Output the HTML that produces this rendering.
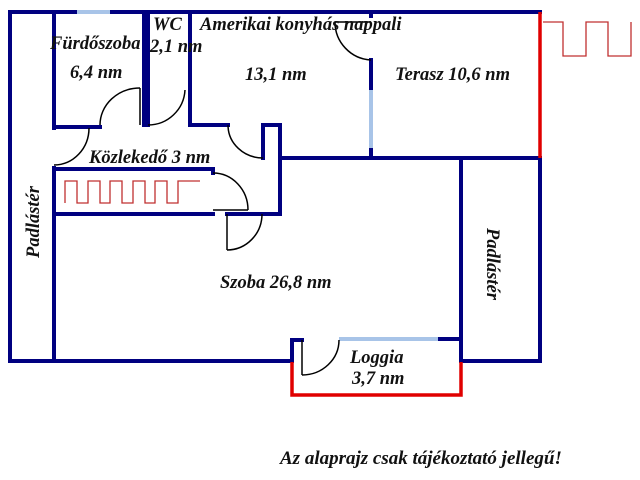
<!DOCTYPE html>
<html><head><meta charset="utf-8"><style>
html,body{margin:0;padding:0;background:#fff;}
svg{display:block}
text{font-family:"Liberation Serif",serif;font-style:italic;font-weight:bold;fill:#111;}
</style></head><body>
<svg width="640" height="480" viewBox="0 0 640 480" xmlns="http://www.w3.org/2000/svg">
<g stroke="#000080" stroke-width="4" fill="none" stroke-linecap="square">
<line x1="10" y1="12" x2="540" y2="12"/>
<line x1="10" y1="12" x2="10" y2="361"/>
<line x1="10" y1="361" x2="292" y2="361"/>
<line x1="54" y1="12" x2="54" y2="128"/>
<line x1="54" y1="168" x2="54" y2="361"/>
<line x1="144" y1="12" x2="144" y2="125"/>
<line x1="148" y1="12" x2="148" y2="125"/>
<line x1="190" y1="12" x2="190" y2="125"/>
<line x1="54" y1="127" x2="100" y2="127"/>
<line x1="190" y1="125" x2="228" y2="125"/>
<line x1="263" y1="125" x2="263" y2="158"/>
<line x1="263" y1="125" x2="280" y2="125"/>
<line x1="280" y1="125" x2="280" y2="214"/>
<line x1="280" y1="158" x2="540" y2="158"/>
<line x1="54" y1="169" x2="213" y2="169"/>
<line x1="213" y1="169" x2="213" y2="173"/>
<line x1="54" y1="214" x2="213" y2="214"/>
<line x1="227" y1="214" x2="280" y2="214"/>
<line x1="371" y1="12" x2="371" y2="16"/>
<line x1="371" y1="60" x2="371" y2="90"/>
<line x1="371" y1="148" x2="371" y2="158"/>
<line x1="540" y1="158" x2="540" y2="361"/>
<line x1="461" y1="158" x2="461" y2="361"/>
<line x1="461" y1="361" x2="540" y2="361"/>
<line x1="292" y1="340" x2="292" y2="361"/>
<line x1="292" y1="340" x2="302" y2="340"/>
<line x1="438" y1="339" x2="461" y2="339"/>
</g>
<g stroke="#a8c4e8" stroke-width="4">
<line x1="77" y1="12" x2="110" y2="12"/>
<line x1="371" y1="90" x2="371" y2="148"/>
<line x1="339" y1="339" x2="438" y2="339"/>
</g>
<g stroke="#e00000" stroke-width="3.5" fill="none">
<line x1="540" y1="12" x2="540" y2="158"/>
<polyline points="292,362 292,395 461,395 461,362"/>
</g>
<g stroke="#c03030" stroke-width="1.3" fill="none">
<polyline points="65,203 65,181 77,181 77,203 88,203 88,181 100,181 100,203 110,203 110,181 122,181 122,203 133,203 133,181 145,181 145,203 155,203 155,181 167,181 167,203 178,203 178,181 200,181"/>
<polyline points="543,22 563,22 563,56 586,56 586,22 608,22 608,56 631,56 631,22"/>
</g>
<g stroke="#000" stroke-width="1.5" fill="none">
<line x1="140" y1="88" x2="140" y2="125"/>
<path d="M100,125 A40,37 0 0 1 140,88"/>
<path d="M148,125 A37,37 0 0 0 185,90"/>
<path d="M228,125 A35,33 0 0 0 263,158"/>
<path d="M54,165 A35,37 0 0 0 89,128"/>
<path d="M213,173 A35,37 0 0 1 248,210"/>
<line x1="213" y1="210" x2="248" y2="210"/>
<line x1="227" y1="214" x2="227" y2="250"/>
<path d="M227,250 A35,36 0 0 0 262,214"/>
<path d="M335,22 A38,38 0 0 0 371,60"/>
<line x1="335" y1="22" x2="371" y2="22"/>
<line x1="302" y1="340" x2="302" y2="375"/>
<path d="M302,375 A37,35 0 0 0 339,340"/>
</g>
<text x="50" y="49" font-size="18.5">Fürdőszoba</text>
<text x="70" y="78" font-size="18.5">6,4 nm</text>
<text x="153" y="30" font-size="18.5">WC</text>
<text x="150" y="52" font-size="18.5">2,1 nm</text>
<text x="200" y="30" font-size="18.5">Amerikai konyhás nappali</text>
<text x="245" y="80" font-size="18.5">13,1 nm</text>
<text x="395" y="80" font-size="18.5">Terasz 10,6 nm</text>
<text x="89" y="163" font-size="18.5">Közlekedő 3 nm</text>
<text x="220" y="288" font-size="18.5">Szoba 26,8 nm</text>
<text x="350" y="363" font-size="18.5">Loggia</text>
<text x="352" y="384" font-size="18.5">3,7 nm</text>
<text transform="translate(39,222) rotate(-90)" text-anchor="middle" font-size="18.5">Padlástér</text>
<text transform="translate(487,264) rotate(90)" text-anchor="middle" font-size="18.5">Padlástér</text>
<text x="280" y="464" font-size="19">Az alaprajz csak tájékoztató jellegű!</text>
</svg>
</body></html>
